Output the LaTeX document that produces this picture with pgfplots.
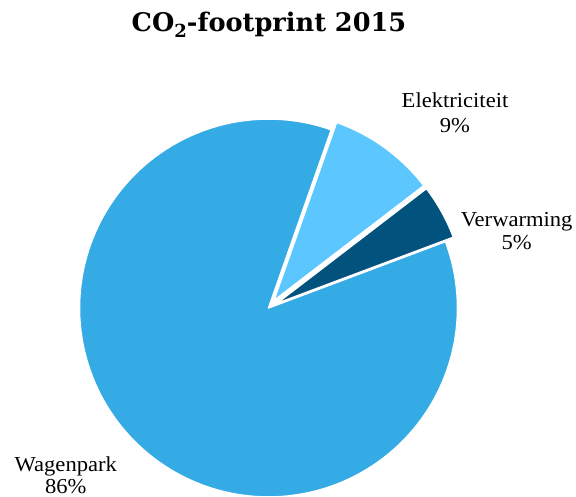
\documentclass[border=0pt]{standalone}
\usepackage{pgfplots}
\pgfplotsset{compat=1.18}
\usepackage{fontspec}
\setmainfont{Liberation Serif}[FakeStretch=1.06]
\newfontfamily\titlefont{DejaVu Serif}
\definecolor{cW}{RGB}{52,171,229}
\definecolor{cV}{RGB}{1,82,124}
\definecolor{cE}{RGB}{92,198,255}
\tikzset{lbl/.style={font=\fontsize{21.3bp}{25.6bp}\selectfont, anchor=base, inner sep=0pt}}
% data: shares in percent
\def\vW{86.1}
\def\vV{4.7}
\def\vE{9.2}
\def\start{70.6}
\def\ex{0.048}
\pgfmathsetmacro\aW{\start}
\pgfmathsetmacro\bW{\aW+3.6*\vW}
\pgfmathsetmacro\bV{\bW+3.6*\vV}
\pgfmathsetmacro\bE{\bV+3.6*\vE}
\pgfmathsetmacro\mV{(\bW+\bV)/2}
\pgfmathsetmacro\mE{(\bV+\bE)/2}
\pgfmathsetmacro\dxV{\ex*cos(\mV)}
\pgfmathsetmacro\dyV{\ex*sin(\mV)}
\pgfmathsetmacro\dxE{\ex*cos(\mE)}
\pgfmathsetmacro\dyE{\ex*sin(\mE)}
\begin{document}
\begin{tikzpicture}
\useasboundingbox (0,0) rectangle (576bp,497bp);
\clip (0,0) rectangle (576bp,497bp);
\begin{axis}[
  at={(0,0)}, anchor=south west,
  scale only axis, width=576bp, height=497bp,
  xmin=-1.4206, xmax=1.6270, ymin=-1.0, ymax=1.6296,
  hide axis, clip=false,
]
\addplot[fill=cW, draw=white, line width=1.5pt, line join=round, domain=\aW:\bW, samples=150, variable=\t]
  ({cos(\t)},{sin(\t)}) -- (axis cs:0,0) -- cycle;
\addplot[fill=cV, draw=white, line width=1.5pt, line join=round, domain=\bW:\bV, samples=20, variable=\t]
  ({\dxV+cos(\t)},{\dyV+sin(\t)}) -- (axis cs:\dxV,\dyV) -- cycle;
\addplot[fill=cE, draw=white, line width=1.5pt, line join=round, domain=\bV:\bE, samples=30, variable=\t]
  ({\dxE+cos(\t)},{\dyE+sin(\t)}) -- (axis cs:\dxE,\dyE) -- cycle;
\node[anchor=base, inner sep=0pt, font=\titlefont\fontsize{25.6bp}{30bp}\selectfont\bfseries] at (axis cs:0.0026,1.4619) {CO\raisebox{-0.22em}{\fontsize{18bp}{20bp}\selectfont 2}-footprint 2015};
\node[lbl] at (axis cs:0.9868,1.0582) {Elektriciteit};
\node[lbl] at (axis cs:0.9868,0.9259) {9\%};
\node[lbl] at (axis cs:1.3132,0.4302) {Verwarming};
\node[lbl] at (axis cs:1.3132,0.3069) {5\%};
\node[lbl] at (axis cs:-1.0725,-0.8661) {Wagenpark};
\node[lbl] at (axis cs:-1.0725,-0.9800) {86\%};
\end{axis}
\end{tikzpicture}
\end{document}
